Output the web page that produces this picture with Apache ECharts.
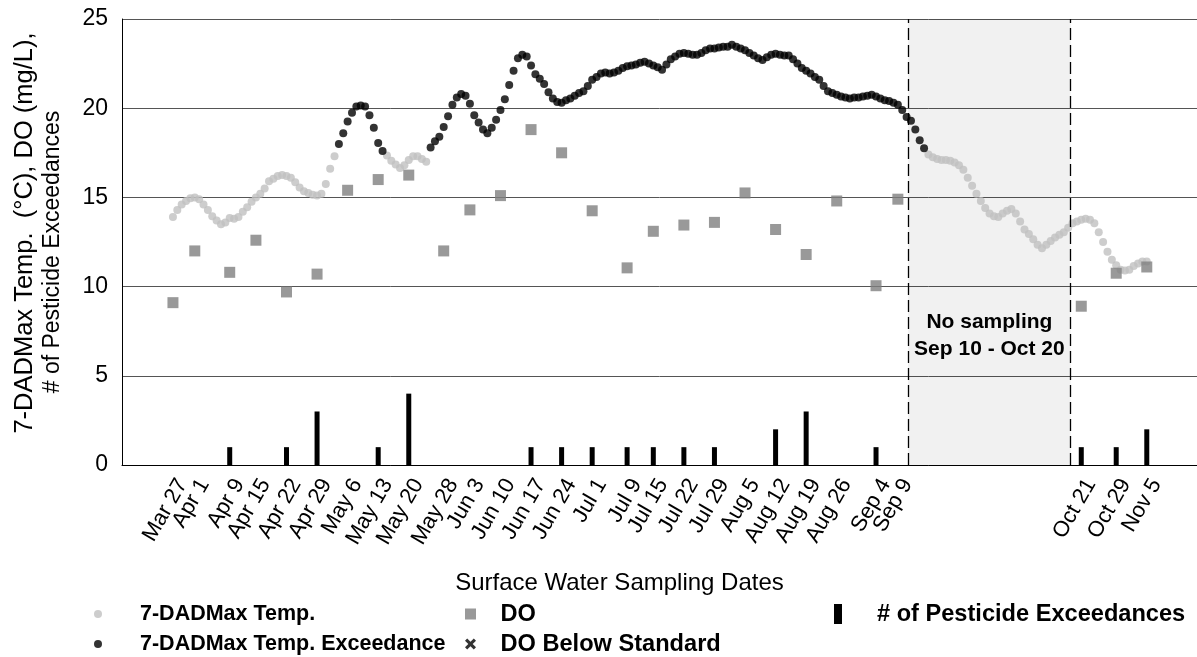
<!DOCTYPE html>
<html>
<head>
<meta charset="utf-8">
<title>Surface Water Sampling – Temperature, DO and Pesticide Exceedances</title>
<script src="https://cdn.jsdelivr.net/npm/echarts@6/dist/echarts.min.js"></script>
<style>
  html, body { margin: 0; padding: 0; background: #ffffff; }
  #chart { width: 1197px; height: 657px; }
</style>
</head>
<body>
<div id="chart"></div>
<script>
// Surface water sampling dates (2019) and their axis labels
const samplingDates = [
  '2019-03-27', '2019-04-01', '2019-04-09', '2019-04-15', '2019-04-22', '2019-04-29',
  '2019-05-06', '2019-05-13', '2019-05-20', '2019-05-28', '2019-06-03', '2019-06-10',
  '2019-06-17', '2019-06-24', '2019-07-01', '2019-07-09', '2019-07-15', '2019-07-22',
  '2019-07-29', '2019-08-05', '2019-08-12', '2019-08-19', '2019-08-26', '2019-09-04',
  '2019-09-09', '2019-10-21', '2019-10-29', '2019-11-05'
];
const samplingLabels = [
  'Mar 27', 'Apr 1', 'Apr 9', 'Apr 15', 'Apr 22', 'Apr 29',
  'May 6', 'May 13', 'May 20', 'May 28', 'Jun 3', 'Jun 10',
  'Jun 17', 'Jun 24', 'Jul 1', 'Jul 9', 'Jul 15', 'Jul 22',
  'Jul 29', 'Aug 5', 'Aug 12', 'Aug 19', 'Aug 26', 'Sep 4',
  'Sep 9', 'Oct 21', 'Oct 29', 'Nov 5'
];

// Dissolved oxygen (mg/L) measured on each sampling date
const doValues = [
  9.1, 12.0, 10.8, 12.6, 9.7, 10.7,
  15.4, 16.0, 16.25, 12.0, 14.3, 15.1,
  18.8, 17.5, 14.25, 11.05, 13.1, 13.45,
  13.6, 15.25, 13.2, 11.8, 14.8, 10.05,
  14.9, 8.9, 10.75, 11.1
];

// Number of pesticide exceedances on each sampling date
const pesticideExceedances = [
  0, 0, 1, 0, 1, 3,
  0, 1, 4, 0, 0, 0,
  1, 1, 1, 1, 1, 1,
  1, 0, 2, 3, 0, 1,
  0, 1, 1, 2
];

// DO values below the standard (none this season)
const doBelowStandard = [];

// Daily 7-day average of daily maximum temperature (°C), starting Mar 27
const tempStartDate = '2019-03-27';
const tempValues = [
  13.9, 14.3, 14.6, 14.8, 14.95, 15.0, 14.9, 14.6, 14.3, 13.95,
  13.7, 13.5, 13.6, 13.85, 13.8, 13.9, 14.2, 14.45, 14.75, 15.0,
  15.2, 15.5, 15.9, 16.05, 16.2, 16.25, 16.2, 16.1, 15.85, 15.55,
  15.35, 15.25, 15.15, 15.1, 15.2, 15.75, 16.6, 17.3, 18.0, 18.6,
  19.25, 19.75, 20.1, 20.15, 20.1, 19.6, 18.9, 18.05, 17.6, 17.35,
  17.05, 16.85, 16.65, 16.8, 17.1, 17.3, 17.3, 17.15, 17.0, 17.8,
  18.15, 18.4, 18.95, 19.55, 20.2, 20.6, 20.8, 20.7, 20.25, 19.6,
  19.2, 18.8, 18.6, 18.9, 19.35, 19.9, 20.5, 21.3, 22.1, 22.8,
  23.0, 22.9, 22.4, 21.9, 21.65, 21.35, 20.9, 20.55, 20.35, 20.3,
  20.45, 20.55, 20.7, 20.85, 20.95, 21.25, 21.6, 21.75, 21.95, 22.0,
  21.95, 22.0, 22.1, 22.25, 22.35, 22.4, 22.45, 22.55, 22.6, 22.5,
  22.4, 22.3, 22.15, 22.45, 22.75, 22.9, 23.05, 23.1, 23.05, 23.0,
  23.0, 23.1, 23.25, 23.35, 23.35, 23.4, 23.45, 23.45, 23.55, 23.45,
  23.35, 23.25, 23.1, 22.95, 22.8, 22.7, 22.85, 23.0, 23.05, 23.0,
  22.95, 22.95, 22.75, 22.5, 22.25, 22.1, 21.95, 21.75, 21.6, 21.25,
  20.95, 20.85, 20.75, 20.65, 20.6, 20.55, 20.6, 20.6, 20.65, 20.7,
  20.75, 20.65, 20.55, 20.45, 20.4, 20.3, 20.2, 19.9, 19.5, 19.3,
  18.8, 18.2, 17.75, 17.4, 17.25, 17.15, 17.1, 17.1, 17.05, 16.95,
  16.8, 16.55, 16.1, 15.65, 15.2, 14.8, 14.4, 14.1, 13.95, 13.9,
  14.1, 14.25, 14.35, 14.1, 13.65, 13.2, 12.95, 12.65, 12.35, 12.15,
  12.35, 12.55, 12.75, 12.9, 13.05, 13.3, 13.55, 13.65, 13.75, 13.8,
  13.75, 13.55, 13.05, 12.5, 11.95, 11.5, 11.2, 10.95, 10.9, 10.95,
  11.15, 11.3, 11.4, 11.4
];

// 7-DADMax temperature standard (°C); values above it are exceedances
const tempStandard = 17.5;

// Period with no sampling
const noSamplingStart = '2019-09-11T08:00';
const noSamplingEnd = '2019-10-18T14:00';
const noSamplingText = 'No sampling\nSep 10 - Oct 20';

// Y axis ticks
const yMin = 0, yMax = 25, yStep = 5;

// ---------------------------------------------------------------------------
const FONT = '"Liberation Sans", Arial, Helvetica, sans-serif';

function toTime(s) {
  const [datePart, timePart] = s.split('T');
  const [y, m, d] = datePart.split('-').map(Number);
  const [hh, mm] = (timePart || '00:00').split(':').map(Number);
  return new Date(y, m - 1, d, hh, mm).getTime();
}

const sampleTimes = samplingDates.map(toTime);
const [ty, tm, td] = tempStartDate.split('-').map(Number);
const tempPoints = tempValues.map((v, i) => [new Date(ty, tm - 1, td + i).getTime(), v]);
const tempNormal = tempPoints.filter(p => p[1] <= tempStandard);
const tempExceed = tempPoints.filter(p => p[1] > tempStandard);
const doPoints = sampleTimes.map((t, i) => [t, doValues[i]]);
const pestPoints = sampleTimes.map((t, i) => [t, pesticideExceedances[i]]);

// Date range shown on the horizontal axis
const axisMin = new Date(2019, 2, 15, 8).getTime();
const axisMax = new Date(2019, 10, 16, 12).getTime();

// Label positions: a blank one at the axis start (hidden via showMinLabel),
// so the crowded first two sampling-date labels are both kept
const labelValues = [axisMin].concat(sampleTimes);

const chart = echarts.init(document.getElementById('chart'), null, { renderer: 'canvas' });

const legendText = {
  fontFamily: FONT, fontSize: 23.6, fontWeight: 'bold', color: '#000', lineHeight: 26
};
const crossPath = 'path://M2,0L5,3L8,0L10,2L7,5L10,8L8,10L5,7L2,10L0,8L3,5L0,2Z';

const option = {
  animation: false,
  backgroundColor: '#ffffff',
  textStyle: { fontFamily: FONT },
  grid: {
    left: 122, right: 0, top: 19, bottom: 192,
    containLabel: false,
    outerBoundsMode: 'none'
  },
  legend: [
    {
      orient: 'vertical', left: 94, top: 601, padding: 0,
      itemWidth: 74, itemHeight: 8, itemGap: 4, selectedMode: false,
      textStyle: Object.assign({}, legendText, { fontSize: 21.5 }),
      data: [
        { name: '7-DADMax Temp.', icon: 'circle' },
        { name: '7-DADMax Temp. Exceedance', icon: 'circle' }
      ]
    },
    {
      orient: 'vertical', left: 465, top: 601, padding: 0,
      itemWidth: 50, itemHeight: 11, itemGap: 4, selectedMode: false,
      symbolKeepAspect: true,
      textStyle: legendText,
      data: [
        { name: 'DO', icon: 'path://M0,0H10V10H0Z' },
        { name: 'DO Below Standard', icon: crossPath }
      ]
    },
    {
      orient: 'vertical', left: 834, top: 601, padding: 0,
      itemWidth: 68, itemHeight: 20, itemGap: 4, selectedMode: false,
      symbolKeepAspect: true,
      textStyle: legendText,
      data: [
        { name: '# of Pesticide Exceedances', icon: 'path://M0,0H8V20H0Z' }
      ]
    }
  ],
  xAxis: {
    type: 'value',
    min: axisMin,
    max: axisMax,
    name: 'Surface Water Sampling Dates',
    nameLocation: 'middle',
    nameGap: 106,
    nameMoveOverlap: false,
    nameTextStyle: {
      fontFamily: FONT, fontSize: 24, color: '#000',
      padding: [0, 80, 0, 0]
    },
    axisLine: { show: true, onZero: true, lineStyle: { color: '#000', width: 1 } },
    axisTick: { show: false },
    splitLine: { show: false },
    axisLabel: {
      customValues: labelValues,
      rotate: 60,
      margin: 10,
      verticalAlign: 'top',
      hideOverlap: false,
      showMinLabel: false,
      showMaxLabel: true,
      fontFamily: FONT,
      fontSize: 22,
      color: '#000',
      formatter: function (value) {
        const i = sampleTimes.indexOf(+value);
        return i >= 0 ? samplingLabels[i] : '';
      }
    }
  },
  yAxis: {
    type: 'value',
    min: yMin,
    max: yMax,
    interval: yStep,
    name: '{a|7-DADMax Temp.  (°C), DO (mg/L),}\n{b|# of Pesticide Exceedances}',
    nameLocation: 'middle',
    nameGap: 55,
    nameMoveOverlap: false,
    nameTextStyle: {
      fontFamily: FONT, color: '#000',
      rich: {
        a: { fontFamily: FONT, fontSize: 25.5, color: '#000', lineHeight: 28, padding: [0, 0, 0, 18] },
        b: { fontFamily: FONT, fontSize: 23, color: '#000', lineHeight: 28, padding: [0, 20, 0, 0] }
      }
    },
    axisLine: { show: true, lineStyle: { color: '#000', width: 1 } },
    axisTick: { show: false },
    axisLabel: { fontFamily: FONT, fontSize: 23, color: '#000', margin: 14 },
    splitLine: { show: true, lineStyle: { color: '#555555', width: 1 } }
  },
  series: [
    {
      name: '# of Pesticide Exceedances',
      type: 'bar',
      z: 2,
      barWidth: 5,
      itemStyle: { color: '#000' },
      data: pestPoints
    },
    {
      name: '7-DADMax Temp.',
      type: 'scatter',
      z: 3,
      symbol: 'circle',
      symbolSize: 8,
      itemStyle: { color: '#c0c0c0' },
      data: tempNormal,
      markArea: {
        silent: true,
        itemStyle: { color: 'rgba(0,0,0,0.055)', borderWidth: 0 },
        label: {
          show: true,
          position: ['50%', '71%'],
          align: 'center',
          verticalAlign: 'middle',
          formatter: noSamplingText,
          fontFamily: FONT,
          fontSize: 21,
          fontWeight: 'bold',
          lineHeight: 27,
          color: '#000'
        },
        data: [[{ xAxis: toTime(noSamplingStart) }, { xAxis: toTime(noSamplingEnd) }]]
      },
      markLine: {
        silent: true,
        symbol: 'none',
        label: { show: false },
        lineStyle: { color: '#000', width: 1.3, type: [12, 5] },
        emphasis: { disabled: true },
        data: [{ xAxis: toTime(noSamplingStart) }, { xAxis: toTime(noSamplingEnd) }]
      }
    },
    {
      name: '7-DADMax Temp. Exceedance',
      type: 'scatter',
      z: 3,
      symbol: 'circle',
      symbolSize: 8,
      itemStyle: { color: '#000' },
      data: tempExceed
    },
    {
      name: 'DO',
      type: 'scatter',
      z: 4,
      symbol: 'rect',
      symbolSize: 11,
      itemStyle: { color: '#808080' },
      data: doPoints
    },
    {
      name: 'DO Below Standard',
      type: 'scatter',
      z: 5,
      symbol: crossPath,
      symbolSize: 11,
      itemStyle: { color: '#000' },
      data: doBelowStandard
    }
  ]
};

chart.setOption(option);
</script>
</body>
</html>
